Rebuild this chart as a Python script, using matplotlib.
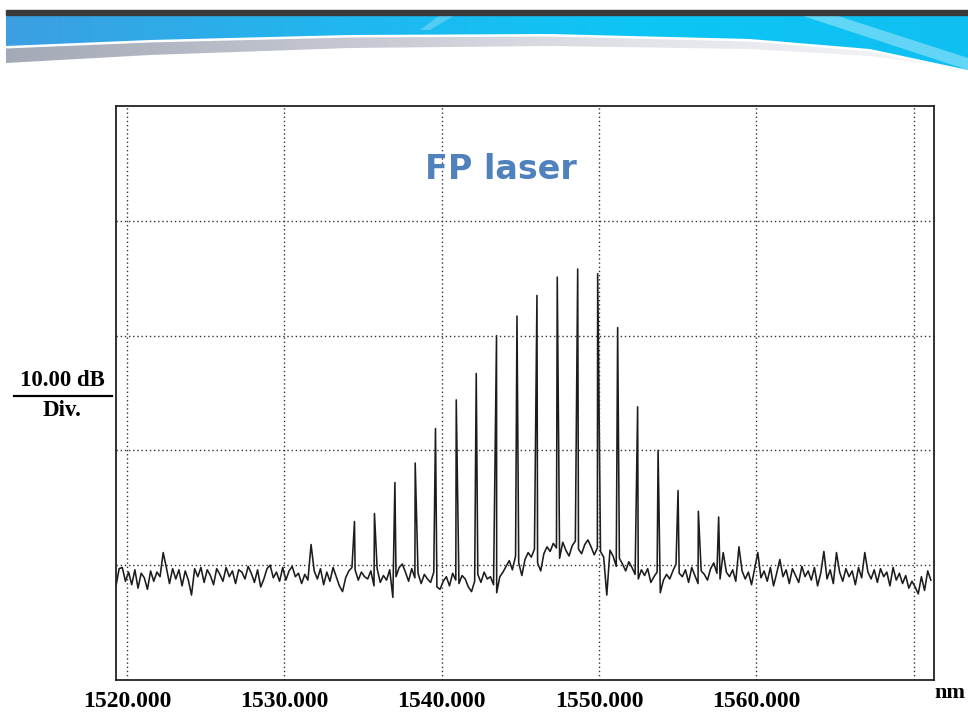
import numpy as np
import matplotlib.pyplot as plt
from matplotlib.patches import Rectangle, Polygon
from matplotlib.colors import LinearSegmentedColormap

# noise floor of the trace (dB), one value every 0.2 nm from 1519.3 nm
noise_start = 1519.3
noise_step = 0.2
noise_db = [
	-61.8, -60.3, -60.2, -61.4, -60.6, -61.7, -60.4, -62.0, -60.7, -61.1, -62.1, -60.5, -61.4, -60.6, -61.0, -58.9, -60.2, -61.6, -60.3, -61.2,
	-60.4, -61.8, -60.5, -61.3, -62.6, -60.3, -61.0, -60.2, -61.5, -60.4, -60.9, -61.7, -60.3, -60.8, -61.4, -60.2, -61.0, -60.5, -61.6, -60.4,
	-60.6, -61.2, -60.1, -60.7, -61.5, -60.4, -61.9, -61.2, -60.3, -60.0, -61.1, -60.6, -61.4, -60.2, -61.3, -60.5, -60.1, -61.0, -60.7, -61.6,
	-60.8, -61.3, -58.2, -60.5, -61.2, -60.3, -61.7, -60.6, -61.4, -60.2, -61.0, -61.8, -62.3, -61.1, -60.5, -60.2, -60.4, -61.3, -60.6, -61.0,
	-61.2, -60.5, -61.8, -60.3, -61.5, -60.9, -61.3, -60.4, -62.8, -61.0, -60.2, -59.9, -60.6, -61.4, -60.3, -61.1, -60.7, -61.6, -60.8, -61.2,
	-61.5, -60.6, -61.9, -62.1, -61.4, -61.0, -61.8, -60.7, -61.3, -61.6, -60.9, -61.2, -61.9, -62.3, -61.4, -60.8, -61.5, -60.6, -61.2, -61.0,
	-61.7, -62.4, -61.0, -60.6, -60.1, -59.6, -60.4, -59.2, -59.8, -60.9, -59.5, -58.9, -59.3, -58.6, -59.8, -60.5, -59.0, -58.4, -58.8, -58.1,
	-58.5, -59.4, -58.0, -58.7, -59.2, -58.3, -57.9, -58.6, -59.0, -58.2, -57.8, -58.4, -59.1, -58.5, -58.8, -59.3, -62.6, -58.7, -59.2, -60.1,
	-59.4, -59.9, -60.5, -59.7, -60.2, -60.8, -61.2, -60.4, -60.9, -60.3, -61.5, -61.0, -60.6, -62.4, -61.3, -60.8, -61.2, -60.5, -59.9, -60.7,
	-61.0, -60.4, -61.5, -60.2, -60.9, -61.6, -60.5, -60.8, -61.3, -60.3, -59.8, -60.7, -61.2, -58.9, -60.6, -61.0, -60.4, -61.4, -58.4, -60.5,
	-61.2, -60.6, -61.7, -60.3, -58.9, -61.1, -60.5, -61.4, -60.2, -61.8, -60.7, -59.5, -61.0, -60.4, -61.6, -60.3, -60.9, -61.5, -60.1, -61.0,
	-60.5, -61.3, -60.2, -61.8, -60.7, -58.8, -61.2, -60.4, -61.6, -58.9, -60.6, -61.4, -60.3, -61.0, -60.5, -61.7, -60.2, -61.1, -58.9, -60.6,
	-61.2, -60.4, -61.5, -60.3, -61.0, -60.6, -61.8, -60.2, -61.3, -60.7, -61.6, -60.9, -62.0, -61.4, -61.9, -62.5, -61.0, -62.2, -60.5, -61.3,
]

# longitudinal modes of the FP laser
peak_nm = [1534.46, 1535.73, 1537.03, 1538.32, 1539.61, 1540.93, 1542.20, 1543.49, 1544.79, 1546.06,
	1547.35, 1548.65, 1549.92, 1551.19, 1552.46, 1553.76, 1555.03, 1556.32, 1557.61]
peak_db = [-56.2, -55.5, -52.8, -51.1, -48.1, -45.6, -43.3, -40.0, -38.3, -36.5,
	-34.9, -34.2, -34.6, -39.3, -46.2, -50.0, -53.5, -55.3, -55.8]

grid_nm = [1520, 1530, 1540, 1550, 1560, 1570]
tick_lab = ['1520.000', '1530.000', '1540.000', '1550.000', '1560.000', '']
grid_db = [-60, -50, -40, -30]

W, H = 968, 718


def build_trace():
	#noise samples plus the mode peaks, sorted by wavelength
	nm = noise_start + noise_step * np.arange(len(noise_db))
	x = np.concatenate([nm, np.array(peak_nm)])
	y = np.concatenate([np.array(noise_db), np.array(peak_db)])
	order = np.argsort(x)
	return x[order], y[order]


def draw_banner(fig):
	#slide header: dark bar, blue band and grey swoosh
	ax = fig.add_axes([0, 0, 1, 1])
	ax.set_xlim(0, W)
	ax.set_ylim(H, 0)
	ax.axis('off')
	ax.patch.set_alpha(0)

	xs = np.linspace(6, W, 80)
	up_x = [6, 150, 350, 550, 750, 870, 968]
	up_y = [46, 40, 35, 34, 39, 49, 70]
	lo_x = [6, 150, 350, 550, 750, 870, 940, 968]
	lo_y = [63, 55, 48, 46, 49, 56, 66, 72]
	up = np.interp(xs, up_x, up_y)
	lo = np.interp(xs, lo_x, lo_y)

	blue = LinearSegmentedColormap.from_list('b', ['#3c9fe2', '#22b6ee', '#0cc6f5', '#10bff2'])
	grey = LinearSegmentedColormap.from_list('g', ['#a4a9b7', '#c3c6d0', '#e2e4ea', '#f6f7f9'])
	grad = np.linspace(0, 1, 256).reshape(1, -1)

	blue_poly = Polygon(list(zip(xs, up)) + [(W, 15), (6, 15)], closed=True, facecolor='none', edgecolor='none')
	ax.add_patch(blue_poly)
	im = ax.imshow(grad, cmap=blue, extent=[6, W, 75, 15], aspect='auto')
	im.set_clip_path(blue_poly)

	grey_poly = Polygon(list(zip(xs, up + 2.5)) + list(zip(xs[::-1], lo[::-1])), closed=True,
		facecolor='none', edgecolor='none')
	ax.add_patch(grey_poly)
	im2 = ax.imshow(grad, cmap=grey, extent=[6, W, 75, 30], aspect='auto')
	im2.set_clip_path(grey_poly)

	#light streaks on the right
	ax.add_patch(Polygon([(800, 15), (835, 15), (968, 58), (968, 70)], closed=True, facecolor='white', alpha=0.35, lw=0))
	ax.add_patch(Polygon([(440, 15), (455, 15), (430, 30), (420, 30)], closed=True, facecolor='white', alpha=0.25, lw=0))

	ax.add_patch(Rectangle((6, 10), W - 6, 5, color='#3a3a3a'))
	return ax


def main():
	fig = plt.figure(figsize=(W / 100, H / 100), dpi=100)
	ax = fig.add_axes([116 / W, 1 - 680 / H, 818 / W, 574 / H])

	x, y = build_trace()
	ax.plot(x, y, color='#1c1c1c', lw=1.15)

	ax.set_xlim(1519.3, 1571.3)
	ax.set_ylim(-70, -20)

	#dotted graticule
	for g in grid_nm:
		ax.axvline(g, color='#333333', lw=1.0, ls=(0, (1, 2)))
	for g in grid_db:
		ax.axhline(g, color='#333333', lw=1.0, ls=(0, (1, 2)))

	ax.set_xticks(grid_nm)
	ax.set_xticklabels(tick_lab, fontfamily='Liberation Serif', fontweight='bold', fontsize=17)
	ax.set_yticks([])
	ax.tick_params(axis='x', length=0, pad=8)
	for s in ax.spines.values():
		s.set_color('#222222')
		s.set_linewidth(1.3)

	#title inside the plot
	ax.text(0.47, 0.89, 'FP laser', transform=ax.transAxes, ha='center', va='center',
		fontsize=24, fontweight='bold', color='#4f81bd', family='DejaVu Sans')

	#scale label on the left and unit at the right
	fig.text(62 / W, 1 - 381 / H, '10.00 dB', ha='center', va='center',
		fontsize=16.5, fontweight='bold', family='Liberation Serif')
	fig.text(62 / W, 1 - 410 / H, 'Div.', ha='center', va='center',
		fontsize=16.5, fontweight='bold', family='Liberation Serif')
	fig.add_artist(plt.Line2D([14 / W, 112 / W], [1 - 396 / H, 1 - 396 / H], color='black', lw=1.6))
	fig.text(950 / W, 1 - 693 / H, 'nm', ha='center', va='center',
		fontsize=16, fontweight='bold', family='Liberation Serif')

	draw_banner(fig)

	fig.savefig('out.png', dpi=100)


if __name__ == '__main__':
	main()
